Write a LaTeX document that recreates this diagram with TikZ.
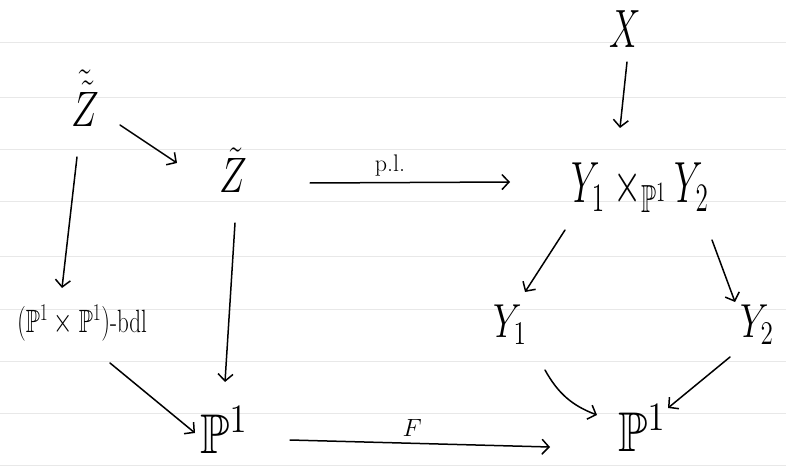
\documentclass[tikz,border=0pt]{standalone}
\usepackage{amssymb}
\usepackage{graphicx}
\usetikzlibrary{arrows.meta}
\newcommand{\szt}[3]{\scalebox{#1}[#2]{#3}}
\begin{document}
\begin{tikzpicture}[x=1pt,y=-1pt,
  obj/.style={inner sep=0pt, font=\fontsize{20}{24}\selectfont},
  small/.style={inner sep=0pt, font=\fontsize{23}{28}\selectfont},
  arr/.style={line width=1.5pt, line cap=round, -{Straight Barb[length=7pt,width=15pt,line width=1.5pt]}},
  lab/.style={font=\fontsize{24}{28}\selectfont, inner sep=2pt},
  ruling/.style={gray!18, line width=1pt}]
\useasboundingbox (0,0) rectangle (786,470);
\foreach \yy in {43,98,150,202,256,309,361,413,465} \draw[ruling] (0,\yy) -- (786,\yy);
% objects
\node[obj] (X) at (625,29) {\szt{1.7}{2.6}{$X$}};
\node[obj] (zz) at (85,98) {\szt{1.8}{2.4}{$\tilde{\tilde{Z}}$}};
\node[obj] (z) at (233,170) {\szt{1.8}{2.4}{$\tilde{Z}$}};
\node[obj] (prod) at (640,188) {\szt{1.75}{2.8}{$Y_1\times_{\mathbb{P}^1}Y_2$}};
\node[small] (bdl) at (82,323) {\szt{1}{1.4}{$(\mathbb{P}^1\times\mathbb{P}^1)$-bdl}};
\node[obj] (y1) at (510,325) {\szt{1.75}{2.3}{$Y_1$}};
\node[obj] (y2) at (757,325) {\szt{1.75}{2.3}{$Y_2$}};
\node[obj] (p1l) at (224,430) {\szt{2.4}{2.8}{$\mathbb{P}^1$}};
\node[obj] (p1r) at (642,428) {\szt{2.4}{2.8}{$\mathbb{P}^1$}};
% arrows
\draw[arr] ([shift={(2,33)}]X.center) -- ([shift={(-20,-60)}]prod.center);
\draw[arr] ([shift={(35,27)}]zz.center) -- ([shift={(-56,-7)}]z.center);
\draw[arr] ([shift={(77,13)}]z.center) -- node[lab, pos=0.4, above=4pt] {p.l.} ([shift={(-130,-6)}]prod.center);
\draw[arr] ([shift={(-8,59)}]zz.center) -- ([shift={(-20,-35)}]bdl.center);
\draw[arr] ([shift={(2,53)}]z.center) -- ([shift={(1,-48)}]p1l.center);
\draw[arr] ([shift={(-75,42)}]prod.center) -- ([shift={(15,-33)}]y1.center);
\draw[arr] ([shift={(72,52)}]prod.center) -- ([shift={(-22,-23)}]y2.center);
\draw[arr] ([shift={(28,40)}]bdl.center) -- ([shift={(-29,3)}]p1l.center);
\draw[arr] ([shift={(66,10)}]p1l.center) -- node[lab, pos=0.47, above=4pt] {$F$} ([shift={(-92,19)}]p1r.center);
\draw[arr] ([shift={(35,45)}]y1.center) to[bend right=20] ([shift={(-45,-13)}]p1r.center);
\draw[arr] ([shift={(-27,32)}]y2.center) -- ([shift={(26,-20)}]p1r.center);
\end{tikzpicture}
\end{document}
